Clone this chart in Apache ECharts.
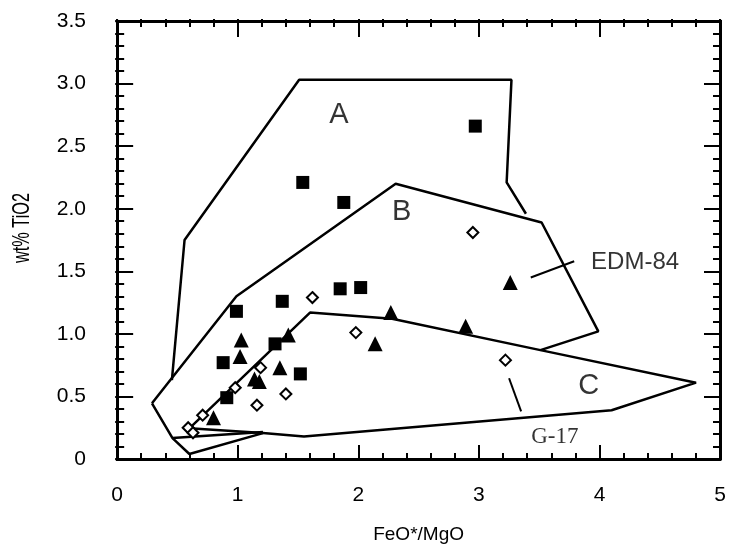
<!DOCTYPE html>
<html>
<head>
<meta charset="utf-8">
<script src="https://cdn.jsdelivr.net/npm/echarts@6/dist/echarts.min.js"></script>
<style>
  html, body { margin: 0; padding: 0; background: #fff; }
  #chart { width: 729px; height: 549px; }
</style>
</head>
<body>
<div id="chart"></div>
<script>
// sample points [FeO*/MgO, wt% TiO2]
const squares = [
  [2.97, 2.66], [1.54, 2.21], [1.88, 2.05], [0.99, 1.18], [1.37, 1.26],
  [1.85, 1.36], [2.02, 1.37], [1.31, 0.92], [0.88, 0.77], [1.52, 0.68], [0.91, 0.49]
]
const triangles = [
  [1.03, 0.95], [1.02, 0.82], [1.42, 0.99], [1.35, 0.73], [1.14, 0.64], [1.18, 0.62],
  [0.80, 0.33], [2.27, 1.17], [2.14, 0.92], [2.89, 1.06], [3.26, 1.41]
]
const diamonds = [
  [1.62, 1.29], [1.98, 1.01], [1.19, 0.73], [0.98, 0.57], [1.40, 0.52], [1.16, 0.43],
  [0.71, 0.35], [0.59, 0.25], [0.63, 0.21], [2.95, 1.81], [3.22, 0.79]
]

// field outlines
const fieldA = [[0.455, 0.63], [0.56, 1.75], [1.51, 3.03], [3.27, 3.03], [3.23, 2.21], [3.39, 1.96]]
const fieldB = [[0.29, 0.445], [0.99, 1.30], [2.31, 2.20], [3.52, 1.89], [3.99, 1.02], [3.51, 0.87]]
const fieldBLow = [[0.29, 0.445], [0.46, 0.167], [1.21, 0.215]]
const fieldLow = [[0.46, 0.167], [0.60, 0.04], [1.21, 0.207]]
const fieldC = [
  [0.60, 0.245], [1.60, 1.17], [2.28, 1.12], [3.51, 0.87], [4.80, 0.61],
  [4.10, 0.39], [1.55, 0.18], [1.21, 0.207], [0.60, 0.245]
]
const leaderEdm = [[3.43, 1.45], [3.79, 1.58]]
const leaderG17 = [[3.25, 0.645], [3.35, 0.38]]

const fieldLabels = [
  { name: 'A', pos: [1.84, 2.75] },
  { name: 'B', pos: [2.36, 1.97] },
  { name: 'C', pos: [3.91, 0.58] }
]
const sampleLabels = [
  { name: 'EDM-84', pos: [3.93, 1.57], serif: false },
  { name: 'G-17', pos: [3.63, 0.18], serif: true }
]

const sans = 'Liberation Sans, Arial, sans-serif'
const serif = 'Liberation Serif, Times New Roman, serif'

const gridBox = { left: 117, right: 7, top: 21, bottom: 88 }
const plotW = 729 - gridBox.left - gridBox.right
const plotH = 549 - gridBox.top - gridBox.bottom

function outline(data) {
  return {
    type: 'line',
    data,
    showSymbol: false,
    symbol: 'none',
    silent: true,
    lineStyle: { color: '#000', width: 2.5 },
    z: 3
  }
}

// axis that only draws the frame line (and labels on the main sides)
function frameAxis(range, pos, extra) {
  return {
    type: 'value',
    position: pos,
    min: range.min, max: range.max, interval: range.major,
    axisLine: { show: true, onZero: false, lineStyle: { color: '#000', width: 3 } },
    axisTick: { show: false },
    splitLine: { show: false },
    axisLabel: { show: false },
    ...extra
  }
}

// tick-only axis: moved onto the opposite edge so its outward ticks point into the plot
function tickAxis(range, pos, offset, interval, length) {
  return {
    type: 'value',
    position: pos,
    offset,
    min: range.min, max: range.max, interval,
    axisLine: { show: false, onZero: false },
    axisTick: { show: true, length, lineStyle: { color: '#000', width: 2 } },
    splitLine: { show: false },
    axisLabel: { show: false }
  }
}

const xRange = { min: 0, max: 5, major: 1, minor: 0.2 }
const yRange = { min: 0, max: 3.5, major: 0.5, minor: 0.1 }

const xAxes = [
  frameAxis(xRange, 'bottom', {
    name: 'FeO*/MgO', nameLocation: 'middle', nameGap: 66,
    nameTextStyle: { color: '#000', fontFamily: sans, fontSize: 19 },
    axisLabel: { show: true, margin: 26, color: '#000', fontFamily: sans, fontSize: 21 }
  }),
  frameAxis(xRange, 'top'),
  tickAxis(xRange, 'top', -plotH, xRange.major, 16),
  tickAxis(xRange, 'top', -plotH, xRange.minor, 8),
  tickAxis(xRange, 'bottom', -plotH, xRange.major, 18),
  tickAxis(xRange, 'bottom', -plotH, xRange.minor, 8)
]
const yAxes = [
  frameAxis(yRange, 'left', {
    axisLabel: {
      show: true, margin: 31, color: '#000', fontFamily: sans, fontSize: 21,
      formatter: v => v === 0 ? '0' : v.toFixed(1)
    }
  }),
  frameAxis(yRange, 'right'),
  tickAxis(yRange, 'right', -plotW, yRange.major, 18),
  tickAxis(yRange, 'right', -plotW, yRange.minor, 9),
  tickAxis(yRange, 'left', -plotW, yRange.major, 18),
  tickAxis(yRange, 'left', -plotW, yRange.minor, 9)
]

const chart = echarts.init(document.getElementById('chart'))
chart.setOption({
  animation: false,
  backgroundColor: '#fff',
  grid: gridBox,
  xAxis: xAxes,
  yAxis: yAxes,
  series: [
    outline(fieldA),
    outline(fieldB),
    outline(fieldBLow),
    outline(fieldLow),
    outline(fieldC),
    { ...outline(leaderEdm), lineStyle: { color: '#000', width: 2 } },
    { ...outline(leaderG17), lineStyle: { color: '#000', width: 2 } },
    {
      type: 'scatter', data: squares, symbol: 'rect', symbolSize: 13,
      itemStyle: { color: '#000', opacity: 1 }, z: 5
    },
    {
      type: 'scatter', data: triangles, symbol: 'triangle', symbolSize: [15, 15],
      itemStyle: { color: '#000', opacity: 1 }, z: 5
    },
    {
      type: 'scatter', data: diamonds, symbol: 'diamond', symbolSize: [11, 11],
      itemStyle: { color: '#fff', borderColor: '#000', borderWidth: 2, opacity: 1 }, z: 6
    },
    {
      type: 'scatter', symbolSize: 0, silent: true, z: 7,
      data: fieldLabels.map(d => ({ value: d.pos, name: d.name })),
      label: {
        show: true, position: 'inside', formatter: '{b}',
        color: '#000', fontFamily: sans, fontSize: 29
      }
    },
    {
      type: 'scatter', symbolSize: 0, silent: true, z: 7,
      data: sampleLabels.map(d => ({
        value: d.pos, name: d.name,
        label: d.serif
          ? { position: 'inside', fontFamily: serif, fontSize: 23 }
          : { position: 'right', distance: 0, fontFamily: sans, fontSize: 24 }
      })),
      label: { show: true, formatter: '{b}', color: '#000' }
    }
  ],
  graphic: [
    {
      type: 'text', x: 22, y: 228, rotation: Math.PI / 2, scaleX: 0.68,
      style: { text: 'wt% TiO2', fill: '#000', font: '24px ' + sans, align: 'center', verticalAlign: 'middle' }
    }
  ]
})
</script>
</body>
</html>
